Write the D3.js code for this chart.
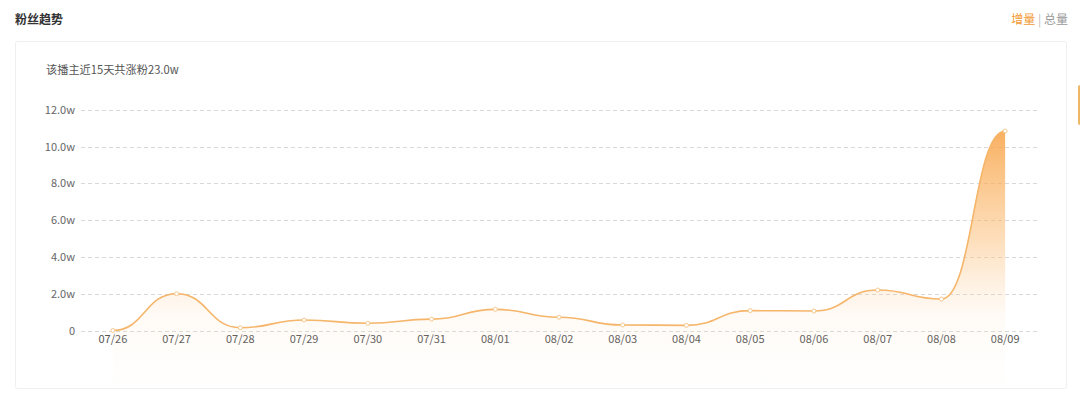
<!DOCTYPE html>
<html><head><meta charset="utf-8">
<script src="https://cdn.jsdelivr.net/npm/d3@7"></script>
<style>
html,body{margin:0;padding:0;background:#fff;}
svg{display:block;font-family:"Noto Sans CJK SC","Noto Sans",sans-serif;}
</style></head>
<body><svg id="c" width="1080" height="398"></svg>
<script>
const categories = ["07/26","07/27","07/28","07/29","07/30","07/31","08/01","08/02","08/03","08/04","08/05","08/06","08/07","08/08","08/09"];
const values = [0.0,2.0,0.15,0.57,0.39,0.62,1.15,0.72,0.30,0.28,1.08,1.06,2.2,1.71,10.84];
const yTicks = [0,2,4,6,8,10,12];
const title = "粉丝趋势";
const subtitle = "该播主近15天共涨粉23.0w";

const svg = d3.select("#c");

// card
svg.append("rect").attr("x",15.5).attr("y",41.5).attr("width",1051).attr("height",347)
  .attr("fill","#fff").attr("stroke","#efefef").attr("rx",2);
// right side tab
svg.append("rect").attr("x",1078).attr("y",85).attr("width",8).attr("height",40).attr("rx",2).attr("fill","#edb766");

svg.append("text").attr("x",15).attr("y",24).attr("font-size",12).attr("font-weight","bold").attr("fill","#333").text(title);
const tr = svg.append("text").attr("x",1068).attr("y",24).attr("font-size",12).attr("text-anchor","end");
tr.append("tspan").attr("fill","#f39a35").text("增量");
tr.append("tspan").attr("fill","#bbb").text(" | ");
tr.append("tspan").attr("fill","#999").text("总量");

svg.append("text").attr("x",46).attr("y",74).attr("font-size",11.2).attr("fill","#555").text(subtitle);

const x = d3.scaleBand().domain(categories).range([81,1037]);
const y = d3.scaleLinear().domain([0,12]).range([330.5,109.7]);
const cx = d => x(d) + x.bandwidth()/2;

// grid
const grid = svg.append("g");
grid.selectAll("line").data(yTicks).join("line")
  .attr("x1",81).attr("x2",1037).attr("y1",d=>Math.round(y(d))+0.5).attr("y2",d=>Math.round(y(d))+0.5)
  .attr("stroke","#d9d9d9").attr("stroke-dasharray","4,3");

// y axis labels
const yAxis = d3.axisLeft(y).tickValues(yTicks).tickSize(0).tickPadding(0)
  .tickFormat(d => d===0 ? "0" : d.toFixed(1)+"w");
const ga = svg.append("g").attr("transform","translate(75,0)").call(yAxis);
ga.select(".domain").remove();
ga.selectAll("text").attr("font-size",11).attr("fill","#666").attr("font-family","'Noto Sans CJK SC','Noto Sans',sans-serif");

// x axis labels
const xAxis = d3.axisBottom(x).tickSize(0).tickPadding(0);
const gx = svg.append("g").attr("transform","translate(0,335)").call(xAxis);
gx.select(".domain").remove();
gx.selectAll("text").attr("font-size",11).attr("fill","#555").attr("font-family","'Noto Sans CJK SC','Noto Sans',sans-serif");

// gradient
const defs = svg.append("defs");
const gr = defs.append("linearGradient").attr("id","g1").attr("gradientUnits","userSpaceOnUse")
  .attr("x1",0).attr("x2",0).attr("y1",125).attr("y2",388);
gr.append("stop").attr("offset",0).attr("stop-color","#f8a448").attr("stop-opacity",0.9);
gr.append("stop").attr("offset",0.45).attr("stop-color","#fbb96e").attr("stop-opacity",0.45);
gr.append("stop").attr("offset",0.72).attr("stop-color","#fcd3a6").attr("stop-opacity",0.12);
gr.append("stop").attr("offset",1).attr("stop-color","#fde9d6").attr("stop-opacity",0.02);

const data = categories.map((c,i)=>({c, v: values[i]}));
const area = d3.area().x(d=>cx(d.c)).y0(388).y1(d=>y(d.v)).curve(d3.curveBumpX);
svg.append("path").datum(data).attr("d",area).attr("fill","url(#g1)");
const line = d3.line().x(d=>cx(d.c)).y(d=>y(d.v)).curve(d3.curveBumpX);
svg.append("path").datum(data).attr("d",line).attr("fill","none").attr("stroke","#f5b56a").attr("stroke-width",1.6);
svg.append("g").selectAll("circle").data(data).join("circle")
  .attr("cx",d=>cx(d.c)).attr("cy",d=>y(d.v)).attr("r",2)
  .attr("fill","#fff").attr("stroke","#f5c98f").attr("stroke-width",1);
</script></body></html>
